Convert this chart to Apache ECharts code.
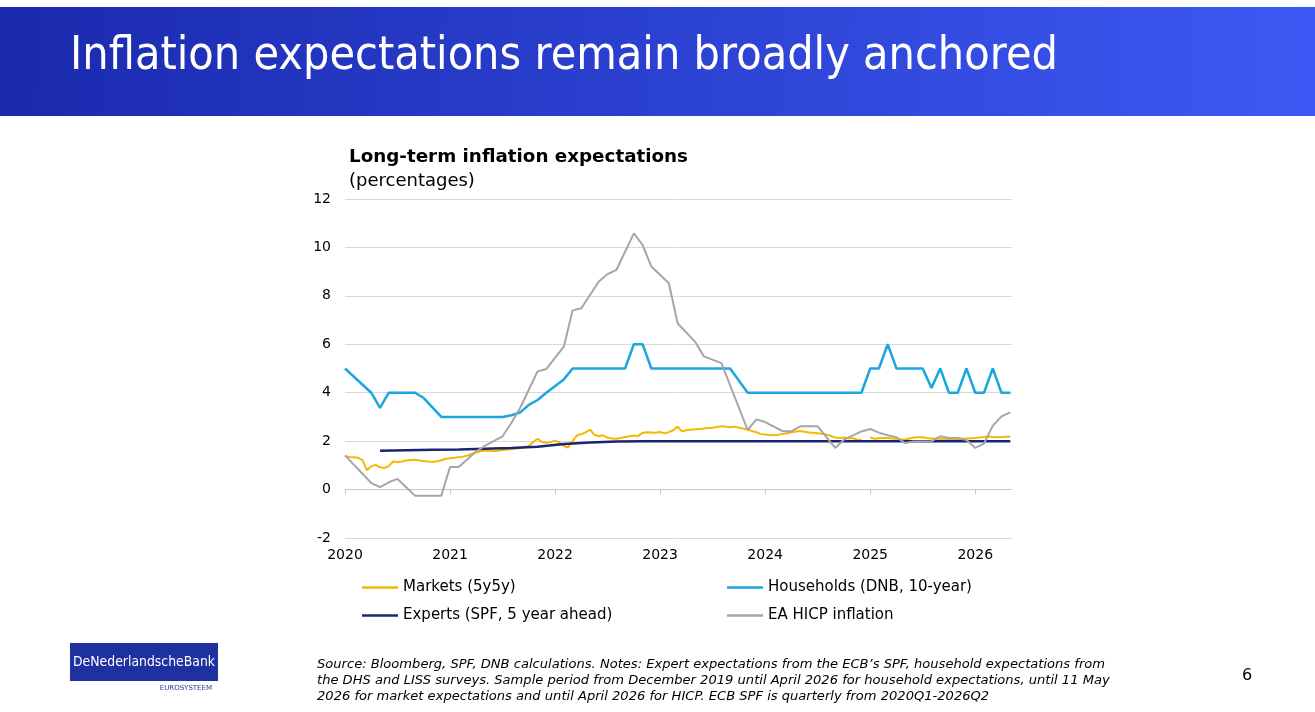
<!DOCTYPE html>
<html><head><meta charset="utf-8">
<script src="https://cdn.jsdelivr.net/npm/echarts@6/dist/echarts.min.js"></script>
<style>html,body{margin:0;padding:0;background:#fff;}#c{width:1315px;height:712px;}</style>
</head><body><div id="c"></div>
<script>
// ---------- data ----------
const yearTicks = [2020, 2021, 2022, 2023, 2024, 2025, 2026];
const seriesNames = ['Markets (5y5y)', 'Households (DNB, 10-year)', 'Experts (SPF, 5 year ahead)', 'EA HICP inflation'];

// Monthly series, Dec 2019 .. Apr 2026 (plotted at month end); null = not readable / straight segment
const monthlyStart = [2019, 12];
const households = [
  5.0, null, null, 4.0, 3.37, 4.0, 4.0, 4.0, 4.0, 3.78,
  null, 3.0, 3.0, 3.0, 3.0, 3.0, 3.0, 3.0, 3.0, 3.07,
  3.18, 3.5, 3.7, 4.0, null, 4.55, 5.0, 5.0, 5.0, 5.0,
  5.0, 5.0, 5.0, 6.0, 6.0, 5.0, 5.0, 5.0, 5.0, 5.0,
  5.0, 5.0, 5.0, 5.0, 5.0, null, 4.0, 4.0, 4.0, 4.0,
  4.0, 4.0, 4.0, 4.0, 4.0, 4.0, 4.0, 4.0, 4.0, 4.0,
  5.0, 5.0, 6.0, 5.0, 5.0, 5.0, 5.0, 4.2, 5.0, 4.0,
  4.0, 5.0, 4.0, 4.0, 5.0, 4.0, 4.0
];
const hicp = [
  1.41, null, null, 0.27, 0.1, 0.3, 0.44, null, -0.25, -0.25,
  -0.25, -0.25, 0.93, 0.93, null, 1.58, 1.81, null, 2.2, 2.75,
  3.37, null, 4.88, 4.98, null, 5.9, 7.4, 7.49, null, 8.59,
  8.9, 9.07, null, 10.58, 10.1, 9.21, null, 8.52, 6.87, null,
  6.1, 5.5, null, 5.22, null, null, 2.46, 2.9, 2.79, null,
  2.41, 2.41, 2.61, 2.61, 2.61, null, 1.72, 2.06, null, 2.4,
  2.5, 2.35, 2.24, 2.16, 1.92, 1.99, 1.99, 2.0, 2.2, 2.13,
  2.13, 2.05, 1.72, 1.9, 2.63, 3.02, 3.19
];
// Quarterly SPF, plotted every 3 months from Apr 2020
const expertsStart = [2020, 4];
const experts = [
  1.6, 1.62, 1.64, 1.66, 1.69, 1.72, 1.77, 1.88, 1.94, 1.99,
  2.0, 2.0, 2.0, 2.0, 2.0, 2.0, 2.0, 2.0, 2.0, 2.0,
  2.0, 2.0, 2.0, 2.0, 2.0
];
// Market 5y5y, sampled on the 1st and 16th of each month from 1 Jan 2020
const marketsStart = [2020, 1];
const markets = [
  1.38, 1.35, 1.33, 1.31, 1.22, 0.8, 0.96, 1.02, 0.92, 0.89,
  0.97, 1.16, 1.14, 1.16, 1.2, 1.22, 1.23, 1.2, 1.18, 1.16,
  1.14, 1.17, 1.21, 1.27, 1.29, 1.31, 1.34, 1.36, 1.41, 1.47,
  1.53, 1.59, 1.6, 1.6, 1.58, 1.6, 1.63, 1.65, 1.68, 1.7,
  1.72, 1.76, 1.8, 1.96, 2.1, 1.96, 1.93, 1.96, 2.02, 1.94,
  1.8, 1.74, 2.0, 2.23, 2.29, 2.36, 2.47, 2.27, 2.2, 2.24,
  2.14, 2.11, 2.1, 2.13, 2.17, 2.2, 2.22, 2.22, 2.34, 2.37,
  2.36, 2.35, 2.38, 2.32, 2.37, 2.45, 2.6, 2.4, 2.45, 2.48,
  2.48, 2.5, 2.52, 2.54, 2.55, 2.58, 2.61, 2.6, 2.57, 2.6,
  2.55, 2.52, 2.47, 2.42, 2.37, 2.29, 2.27, 2.25, 2.24, 2.26,
  2.3, 2.33, 2.37, 2.4, 2.42, 2.39, 2.36, 2.35, 2.33, 2.3,
  2.27, 2.22, 2.15, 2.13, 2.15, 2.12, 2.12, 2.07, 2.05, null,
  2.15, 2.1, 2.12, 2.13, 2.13, 2.11, 2.1, 2.08, 2.07, 2.11,
  2.15, 2.16, 2.16, 2.13, 2.11, 2.1, 2.1, 2.1, 2.09, 2.08,
  2.08, 2.1, 2.11, 2.12, 2.13, 2.15, 2.17, 2.19, 2.17, 2.16,
  2.17, 2.18, 2.19
];

const titleText = 'Inflation expectations remain broadly anchored';
const chartTitle = 'Long-term inflation expectations';
const chartSubtitle = '(percentages)';
const sourceLines = [
  'Source: Bloomberg, SPF, DNB calculations. Notes: Expert expectations from the ECB\u2019s SPF, household expectations from',
  'the DHS and LISS surveys. Sample period from December 2019 until April 2026 for household expectations, until 11 May',
  '2026 for market expectations and until April 2026 for HICP. ECB SPF is quarterly from 2020Q1-2026Q2'
];

// ---------- helpers ----------
function monthPos(start, k, step) { return start[0] + (start[1] + k * step) / 12; }
const hhData = households.map((v, k) => [monthPos(monthlyStart, k, 1), v]).filter(d => d[1] !== null);
const hicpData = hicp.map((v, k) => [monthPos(monthlyStart, k, 1), v]).filter(d => d[1] !== null);
const expData = experts.map((v, k) => [monthPos(expertsStart, k, 3), v]);
const mktData = markets.map((v, i) => {
  const m = Math.floor(i / 2), day = (i % 2) ? 16 : 1;
  return [marketsStart[0] + (marketsStart[1] - 1 + m) / 12 + (day - 1) / 365, v === null ? '-' : v];
});

const FF = 'DejaVu Sans';
const cvs = document.createElement('canvas').getContext('2d');
function measure(txt, font) { cvs.font = font; return cvs.measureText(txt).width; }
const titleFont = '46px "DejaVu Sans"';
const titleScale = 988 / measure(titleText, titleFont);
const srcFont = 'italic 12px "DejaVu Sans"';
const srcScale = 788 / measure(sourceLines[0], srcFont);
const logoFont = '14px "DejaVu Sans"';
const logoScale = 142 / measure('DeNederlandscheBank', logoFont);
const ctFont = 'bold 18px "DejaVu Sans"';
const ctScale = 339 / measure(chartTitle, ctFont);

const colors = ['#F5B800', '#1BA6DF', '#1A2470', '#A6A6A6'];

const chart = echarts.init(document.getElementById('c'), null, { renderer: 'canvas' });
const legendCommon = {
  icon: 'rect', itemWidth: 36, itemHeight: 2.5, padding: 0, selectedMode: false,
  textStyle: { fontFamily: FF, fontSize: 15, color: '#000' }
};
const option = {
  animation: false,
  backgroundColor: '#fff',
  color: colors,
  grid: { left: 345, top: 199, width: 667, height: 339 },
  xAxis: [
    {
      type: 'value', min: 2020, max: 2026.35,
      axisLine: { show: true, onZero: true, lineStyle: { color: '#C8C8C8', width: 1 } },
      axisTick: { show: true, length: 5, customValues: yearTicks, lineStyle: { color: '#C8C8C8' } },
      axisLabel: { show: false },
      splitLine: { show: false }
    },
    {
      type: 'value', min: 2020, max: 2026.35, position: 'bottom',
      axisLine: { show: false, onZero: false },
      axisTick: { show: false },
      axisLabel: { show: true, customValues: yearTicks, margin: 10, fontFamily: FF, fontSize: 14, color: '#000',
        formatter: v => String(Math.round(v)) },
      splitLine: { show: false }
    }
  ],
  yAxis: {
    type: 'value', min: -2, max: 12, interval: 2,
    axisLine: { show: false }, axisTick: { show: false },
    axisLabel: { margin: 14, fontFamily: FF, fontSize: 14, color: '#000' },
    splitLine: { lineStyle: { color: '#D9D9D9', width: 1 } }
  },
  legend: [
    Object.assign({ data: [seriesNames[0]], left: 362, top: 580 }, legendCommon),
    Object.assign({ data: [seriesNames[1]], left: 727, top: 580 }, legendCommon),
    Object.assign({ data: [seriesNames[2]], left: 362, top: 608 }, legendCommon),
    Object.assign({ data: [seriesNames[3]], left: 727, top: 608 }, legendCommon)
  ],
  series: [
    { name: seriesNames[0], type: 'line', data: mktData, symbol: 'none', connectNulls: false,
      lineStyle: { width: 2, color: colors[0] }, itemStyle: { color: colors[0] } },
    { name: seriesNames[1], type: 'line', data: hhData, symbol: 'none',
      lineStyle: { width: 2.5, color: colors[1] }, itemStyle: { color: colors[1] } },
    { name: seriesNames[2], type: 'line', data: expData, symbol: 'none',
      lineStyle: { width: 2.5, color: colors[2] }, itemStyle: { color: colors[2] } },
    { name: seriesNames[3], type: 'line', data: hicpData, symbol: 'none',
      lineStyle: { width: 2, color: colors[3] }, itemStyle: { color: colors[3] } }
  ],
  graphic: [
    { type: 'rect', left: 0, top: 7, shape: { width: 1315, height: 109 }, silent: true,
      style: { fill: new echarts.graphic.LinearGradient(0, 0, 1, 0.3, [
        { offset: 0, color: '#1A2AAE' }, { offset: 1, color: '#3D58F4' }]) } },
    { type: 'text', x: 70, y: 57, scaleX: titleScale, silent: true,
      style: { text: titleText, font: titleFont, fill: '#fff', textAlign: 'left', textVerticalAlign: 'middle', align: 'left', verticalAlign: 'middle' } },
    { type: 'text', x: 349, y: 157, scaleX: ctScale, silent: true,
      style: { text: chartTitle, font: ctFont, fill: '#000', textVerticalAlign: 'middle', verticalAlign: 'middle' } },
    { type: 'text', x: 349, y: 181, silent: true,
      style: { text: chartSubtitle, font: '18px "DejaVu Sans"', fill: '#000', textVerticalAlign: 'middle', verticalAlign: 'middle' } },
    { type: 'rect', left: 70, top: 643, shape: { width: 148, height: 38 }, silent: true, style: { fill: '#1F31A0' } },
    { type: 'text', x: 73, y: 662, scaleX: logoScale, silent: true,
      style: { text: 'DeNederlandscheBank', font: logoFont, fill: '#fff', textVerticalAlign: 'middle', verticalAlign: 'middle' } },
    { type: 'text', x: 212, y: 688, silent: true,
      style: { text: 'EUROSYSTEEM', font: '7px "DejaVu Sans"', fill: '#2B3A95', textAlign: 'right', align: 'right', textVerticalAlign: 'middle', verticalAlign: 'middle' } },
    { type: 'text', x: 317, y: 665, scaleX: srcScale, silent: true,
      style: { text: sourceLines[0], font: srcFont, fill: '#000', textVerticalAlign: 'middle', verticalAlign: 'middle' } },
    { type: 'text', x: 317, y: 681, scaleX: srcScale, silent: true,
      style: { text: sourceLines[1], font: srcFont, fill: '#000', textVerticalAlign: 'middle', verticalAlign: 'middle' } },
    { type: 'text', x: 317, y: 697, scaleX: srcScale, silent: true,
      style: { text: sourceLines[2], font: srcFont, fill: '#000', textVerticalAlign: 'middle', verticalAlign: 'middle' } },
    { type: 'text', x: 1247, y: 676, silent: true,
      style: { text: '6', font: '16px "DejaVu Sans"', fill: '#000', textAlign: 'center', align: 'center', textVerticalAlign: 'middle', verticalAlign: 'middle' } }
  ]
};
chart.setOption(option);
</script>
</body></html>
